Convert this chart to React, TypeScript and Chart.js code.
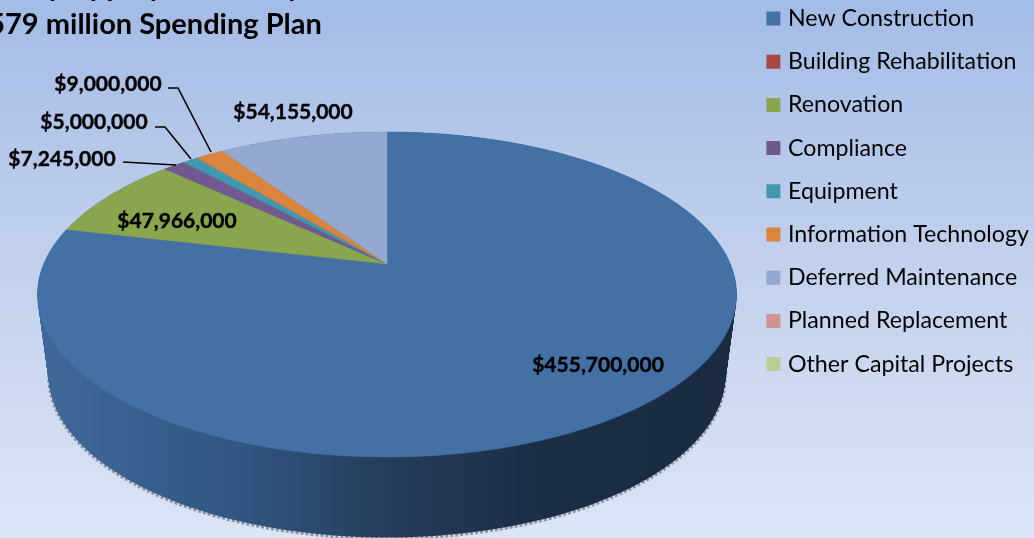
import React, { useEffect, useRef } from "react";
import { Chart, registerables } from "chart.js";

Chart.register(...registerables);

const categories = [
  "New Construction",
  "Building Rehabilitation",
  "Renovation",
  "Compliance",
  "Equipment",
  "Information Technology",
  "Deferred Maintenance",
  "Planned Replacement",
  "Other Capital Projects",
];
const spending = [455700000, 0, 47966000, 7245000, 5000000, 9000000, 54155000, 0, 0];
const sliceColors = ["#4371A6", "#AA4643", "#89A54E", "#71588F", "#4198AF", "#DB843D", "#93A9CF", "#D19392", "#B9CD96"];
const titleLines = ["Facility Appropriations by Area", "$579 million Spending Plan"];

// category index, label centre, optional leader line
const calloutSpecs: [number, number, number, number[]][] = [
  [0, 598, 365, []],
  [2, 177, 221, []],
  [6, 293, 112, []],
  [3, 62, 159, [123, 162, 176, 165]],
  [4, 94, 122, [155, 127, 165, 127, 191, 159]],
  [5, 108, 84, [168, 88, 178, 88, 211, 152]],
];

// Perspective view of the pie's unit circle
const APEX_X = 387;
const APEX_Y = 264;
const A = 343.3;
const B = 156.8;
const K = 0.1877;
const FLOOR_DY = 80.5;
const FLOOR_SCALE_X = 0.968;

function project(theta: number, t = 0): [number, number] {
  const u = Math.cos(theta);
  const v = -Math.sin(theta);
  const w = 1 + K * v;
  const s = 1 + (FLOOR_SCALE_X - 1) * t;
  const x = APEX_X + (s * A * u) / w;
  const y = APEX_Y - (B * v) / w + FLOOR_DY * t;
  return [x, y];
}

function tracePie(ctx: CanvasRenderingContext2D, t: number) {
  ctx.beginPath();
  for (let i = 0; i < 240; i++) {
    const [x, y] = project((i / 240) * Math.PI * 2, t);
    if (i === 0) ctx.moveTo(x, y);
    else ctx.lineTo(x, y);
  }
  ctx.closePath();
}

const perspectivePie = {
  id: "perspectivePie",
  beforeDraw(chart: any) {
    // pin legend and title to the places they hold in the reference
    const legend = chart.legend;
    legend.left = 770.4 - legend.options.labels.padding;
    legend.right = 1034;
    legend.top = 6.9 - legend.options.labels.padding;
    legend.bottom = 538;
    const title = chart.titleBlock;
    title.left = -28.6;
    title.right = 1034;
    title.top = -32.75;
    title.bottom = 40;
  },
  beforeDatasetDraw(chart: any) {
    const ctx: CanvasRenderingContext2D = chart.ctx;
    const arcs = chart.getDatasetMeta(0).data;
    ctx.save();

    // broken grey rim along the lower edge
    ctx.strokeStyle = "#8f939b";
    ctx.lineWidth = 3;
    ctx.setLineDash([3, 2]);
    ctx.beginPath();
    for (let i = 0; i <= 120; i++) {
      const th = (i / 120) * Math.PI * 0.96 + Math.PI * 0.02;
      const [x, y] = project(th, 1);
      if (i === 0) ctx.moveTo(x, y + 1);
      else ctx.lineTo(x, y + 1);
    }
    ctx.stroke();
    ctx.setLineDash([]);

    // side wall: horizontal light-to-dark shading
    const wall = ctx.createLinearGradient(40, 0, 730, 0);
    wall.addColorStop(0, "#40699A");
    wall.addColorStop(0.3, "#305580");
    wall.addColorStop(0.52, "#253C58");
    wall.addColorStop(0.72, "#1B2E46");
    wall.addColorStop(1, "#1A2B42");
    ctx.fillStyle = wall;
    for (let s = 80; s >= 0; s--) {
      tracePie(ctx, s / 80);
      ctx.fill();
    }

    // top face: one wedge per library arc element
    arcs.forEach((arc: any, i: number) => {
      if (!(arc.circumference > 0)) return;
      const { startAngle, endAngle } = arc.getProps(["startAngle", "endAngle"], true);
      const steps = Math.max(2, Math.ceil(((endAngle - startAngle) / (Math.PI * 2)) * 240));
      ctx.beginPath();
      ctx.moveTo(APEX_X, APEX_Y);
      for (let j = 0; j <= steps; j++) {
        const [x, y] = project(startAngle + ((endAngle - startAngle) * j) / steps);
        ctx.lineTo(x, y);
      }
      ctx.closePath();
      ctx.fillStyle = arc.options.backgroundColor;
      ctx.strokeStyle = arc.options.backgroundColor;
      ctx.lineWidth = 0.5;
      ctx.fill();
      ctx.stroke();
    });
    ctx.restore();
    return false;
  },
  afterDatasetsDraw(chart: any) {
    const ctx: CanvasRenderingContext2D = chart.ctx;
    ctx.save();
    ctx.fillStyle = "#000";
    ctx.strokeStyle = "#000";
    ctx.font = "bold 21px Lato";
    ctx.textAlign = "center";
    ctx.textBaseline = "middle";
    calloutSpecs.forEach(([idx, lx, ly, line]) => {
      const text = "$" + spending[idx].toLocaleString("en-US");
      ctx.lineWidth = 0.4;
      ctx.fillText(text, lx, ly);
      ctx.strokeText(text, lx, ly);
      if (line.length) {
        ctx.lineWidth = 1.6;
        ctx.beginPath();
        ctx.moveTo(line[0], line[1]);
        for (let i = 2; i < line.length; i += 2) ctx.lineTo(line[i], line[i + 1]);
        ctx.stroke();
      }
    });
    ctx.restore();
  },
};

export default function App() {
  const ref = useRef<HTMLCanvasElement>(null);
  useEffect(() => {
    const chart = new Chart(ref.current as HTMLCanvasElement, {
      type: "pie",
      data: {
        labels: categories,
        datasets: [{ data: spending, backgroundColor: sliceColors, borderWidth: 0 }],
      },
      options: {
        responsive: false,
        animation: false,
        plugins: {
          tooltip: { enabled: false },
          title: {
            display: true,
            text: titleLines,
            align: "start",
            color: "#000",
            font: { family: "Lato", size: 29, weight: "bold", lineHeight: 1.328 },
            padding: 0,
          },
          legend: {
            position: "right",
            align: "start",
            labels: {
              color: "#111",
              font: { family: "Lato", size: 23.2 },
              boxWidth: 6,
              boxHeight: 6,
              padding: 20,
              generateLabels: () =>
                categories.map((text, i) => ({
                  text,
                  fillStyle: sliceColors[i],
                  strokeStyle: sliceColors[i],
                  lineWidth: 8,
                  hidden: false,
                  index: i,
                })),
            },
          },
        },
      },
      plugins: [perspectivePie],
    } as any);
    return () => chart.destroy();
  }, []);
  return (
    <div
      style={{
        position: "fixed",
        left: 0,
        top: 0,
        width: 1034,
        height: 538,
        overflow: "hidden",
        background: "linear-gradient(180deg, #A3BCE6 0%, #BFCFEC 45%, #DCE5F6 100%)",
      }}
    >
      <canvas ref={ref} width={1034} height={538} style={{ display: "block" }} />
    </div>
  );
}
